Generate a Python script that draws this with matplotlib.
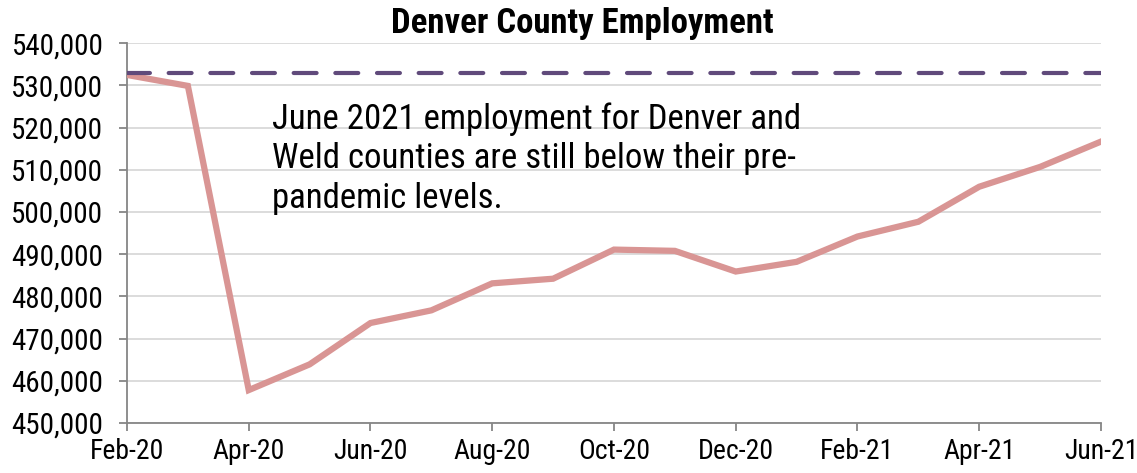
import matplotlib.pyplot as plt
from matplotlib import font_manager

months = ['Feb-20', 'Mar-20', 'Apr-20', 'May-20', 'Jun-20', 'Jul-20', 'Aug-20',
          'Sep-20', 'Oct-20', 'Nov-20', 'Dec-20', 'Jan-21', 'Feb-21', 'Mar-21',
          'Apr-21', 'May-21', 'Jun-21']
employment = [532500, 529900, 457800, 463900, 473700, 476700, 483100, 484200,
              491100, 490800, 485900, 488200, 494200, 497700, 506000, 510700,
              516700]
pre_pandemic = 532900
y_ticks = list(range(450000, 540001, 10000))

# pick a narrow sans face that also has a bold cut
weights = {}
for f in font_manager.fontManager.ttflist:
    if f.style == 'normal':
        weights.setdefault(f.name, set()).add(f.weight)
narrow = 'Liberation Sans'
for cand in ['Liberation Sans Narrow', 'Arial Narrow', 'Roboto Condensed',
             'Archivo Narrow', 'PT Sans Narrow', 'Pragati Narrow']:
    w = weights.get(cand, set())
    if 400 in w and 700 in w:
        narrow = cand
        break

fig = plt.figure(figsize=(11.37, 4.73), dpi=100)
ax = fig.add_axes([0.1117, 0.1057, 0.8566, 0.8028])

x = list(range(len(months)))
ax.plot(x, employment, color='#D99594', linewidth=4.5, solid_joinstyle='miter', zorder=3)
ax.axhline(pre_pandemic, color='#604A7B', linewidth=3, linestyle=(0, (5.5, 4.5)),
           dash_capstyle='round', zorder=4)

ax.set_xlim(0, len(months) - 1)
ax.set_ylim(450000, 540000)
ax.set_yticks(y_ticks)
ax.set_yticklabels([f'{v:,}' for v in y_ticks])
ax.set_xticks(x[::2])
ax.set_xticklabels(months[::2])

ax.grid(axis='y', color='#D9D9D9', linewidth=1.3)
ax.set_axisbelow(True)
for s in ['top', 'right']:
    ax.spines[s].set_visible(False)
for s in ['left', 'bottom']:
    ax.spines[s].set_color('#868686')
    ax.spines[s].set_linewidth(1.3)
ax.tick_params(axis='both', color='#868686', width=1.3, length=6)
ax.tick_params(axis='y', pad=11, labelsize=21)
ax.tick_params(axis='x', pad=5, labelsize=20)
for lbl in ax.get_xticklabels() + ax.get_yticklabels():
    lbl.set_fontfamily(narrow)

fig.text(0.512, 0.93, 'Denver County Employment', fontsize=25, fontweight='bold',
         family=narrow, ha='center', va='baseline')
ax.text(0.149, 0.845, 'June 2021 employment for Denver and\nWeld counties are still below their pre-\npandemic levels.',
        transform=ax.transAxes, fontsize=25, family=narrow, va='top', ha='left',
        linespacing=1.25)

fig.savefig('out.png', dpi=100)
